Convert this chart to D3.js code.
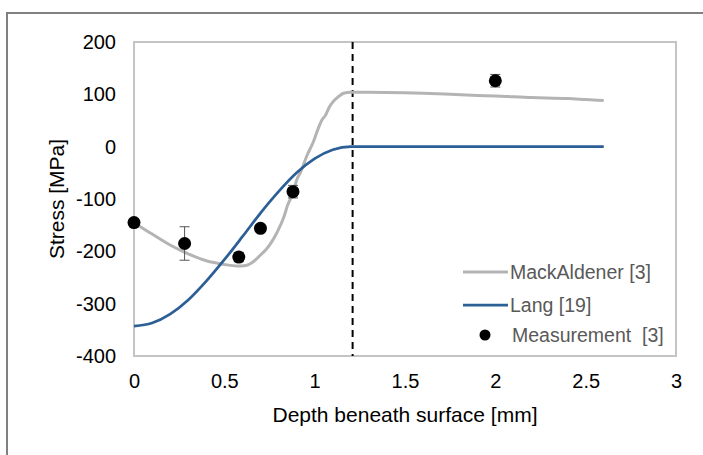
<!DOCTYPE html>
<html>
<head>
<meta charset="utf-8">
<script src="https://cdn.jsdelivr.net/npm/d3@7"></script>
<style>
  body { margin: 0; background: #fff; }
  text { font-family: "Liberation Sans", Arial, sans-serif; }
</style>
</head>
<body>
<svg id="chart"></svg>
<script>
// MackAldener [3] curve (depth mm, stress MPa)
const mackDepth = [0, 0.1, 0.2, 0.3, 0.4, 0.5, 0.57, 0.62, 0.66, 0.7, 0.73, 0.79, 0.83, 0.85, 0.88, 0.9,
  0.92, 0.96, 0.99, 1.02, 1.04, 1.06, 1.08, 1.1, 1.13, 1.16, 1.2, 1.3, 1.5, 1.6, 1.75, 1.9, 2.0, 2.2, 2.4, 2.5, 2.6];
const mackStress = [-145, -167, -188, -205, -218, -225, -228, -227, -220, -207, -197, -165, -134, -112, -89, -64,
  -50, -15, 7, 35, 51, 60, 75, 85, 95, 102, 104, 104, 103, 102, 100, 98, 97, 94, 92, 90, 88];

// Lang [19] curve
const langDepth = [0, 0.1, 0.2, 0.3, 0.4, 0.5, 0.6, 0.7, 0.8, 0.9, 1.0, 1.1, 1.2, 1.6, 2.0, 2.6];
const langStress = [-343, -337, -320, -293, -257, -216, -172, -127, -86, -50, -23, -6, 0, 0, 0, 0];

// Measurement [3] with error bars
const measDepth = [0, 0.28, 0.58, 0.7, 0.88, 2.0];
const measStress = [-145, -185, -211, -156, -86, 126];
const measErr = [0, 32, 9, 0, 12, 12];

// case depth marker
const boundaryDepth = 1.21;

const xTicks = [0, 0.5, 1, 1.5, 2, 2.5, 3];
const yTicks = [200, 100, 0, -100, -200, -300, -400];

const legendItems = ["MackAldener [3]", "Lang [19]", "Measurement  [3]"];

let canvas = {
  "width": 703,
  "height": 455,
  "marginLeft": 134,
  "marginTop": 42,
  "marginRight": 27,
  "marginBottom": 99
};

let svg = d3.select("#chart")
  .attr("width", canvas.width)
  .attr("height", canvas.height);

svg.append("rect")
  .attr("width", canvas.width)
  .attr("height", canvas.height)
  .attr("fill", "#fff");

// outer chart frame (only top and left edges show)
svg.append("rect")
  .attr("x", 7)
  .attr("y", 13)
  .attr("width", 800)
  .attr("height", 600)
  .attr("fill", "none")
  .attr("stroke", "#808080")
  .attr("stroke-width", 2);

let xScale = d3.scaleLinear()
  .domain([0, 3])
  .range([canvas.marginLeft, canvas.width - canvas.marginRight]);

let yScale = d3.scaleLinear()
  .domain([-400, 200])
  .range([canvas.height - canvas.marginBottom, canvas.marginTop]);

// plot area border
svg.append("rect")
  .attr("x", xScale(0))
  .attr("y", yScale(200))
  .attr("width", xScale(3) - xScale(0))
  .attr("height", yScale(-400) - yScale(200))
  .attr("fill", "none")
  .attr("stroke", "#c4c4c4")
  .attr("stroke-width", 2);

// axes (labels only)
let xAxis = d3.axisBottom(xScale).tickValues(xTicks).tickSize(0).tickPadding(18)
  .tickFormat(d => String(d));
let gx = svg.append("g")
  .attr("transform", `translate(0, ${yScale(-400)})`)
  .call(xAxis);

let yAxis = d3.axisLeft(yScale).tickValues(yTicks).tickSize(0).tickPadding(18)
  .tickFormat(d => String(d));
let gy = svg.append("g")
  .attr("transform", `translate(${xScale(0)}, 0)`)
  .call(yAxis);

[gx, gy].forEach(g => {
  g.select(".domain").remove();
  g.selectAll(".tick text")
    .attr("font-size", "20px")
    .attr("fill", "#000")
    .attr("font-family", "Liberation Sans, Arial, sans-serif");
});

// axis titles
svg.append("text")
  .attr("x", (xScale(0) + xScale(3)) / 2)
  .attr("y", 422)
  .attr("text-anchor", "middle")
  .attr("font-size", "21px")
  .attr("fill", "#000")
  .text("Depth beneath surface [mm]");

svg.append("text")
  .attr("transform", `translate(64, ${(yScale(200) + yScale(-400)) / 2}) rotate(-90)`)
  .attr("text-anchor", "middle")
  .attr("font-size", "21px")
  .attr("fill", "#000")
  .text("Stress [MPa]");

// dashed boundary line
svg.append("line")
  .attr("x1", xScale(boundaryDepth))
  .attr("x2", xScale(boundaryDepth))
  .attr("y1", yScale(200))
  .attr("y2", yScale(-400))
  .attr("stroke", "#000")
  .attr("stroke-width", 2)
  .attr("stroke-dasharray", "7,5");

let line = d3.line()
  .x(d => xScale(d[0]))
  .y(d => yScale(d[1]))
  .curve(d3.curveMonotoneX);

let mackData = mackDepth.map((d, i) => [d, mackStress[i]]);
let langData = langDepth.map((d, i) => [d, langStress[i]]);

svg.append("path")
  .datum(mackData)
  .attr("d", line)
  .attr("fill", "none")
  .attr("stroke", "#b4b4b4")
  .attr("stroke-width", 3)
  .attr("stroke-linejoin", "round");

svg.append("path")
  .datum(langData)
  .attr("d", line)
  .attr("fill", "none")
  .attr("stroke", "#2b5f95")
  .attr("stroke-width", 2.75)
  .attr("stroke-linejoin", "round");

// measurements
let meas = measDepth.map((d, i) => ({ x: d, y: measStress[i], e: measErr[i] }));
let errG = svg.append("g").attr("stroke", "#555").attr("stroke-width", 1);

meas.filter(d => d.e > 0).forEach(d => {
  let cx = xScale(d.x);
  errG.append("line")
    .attr("x1", cx).attr("x2", cx)
    .attr("y1", yScale(d.y + d.e)).attr("y2", yScale(d.y - d.e));
  [d.y + d.e, d.y - d.e].forEach(v => {
    errG.append("line")
      .attr("x1", cx - 5).attr("x2", cx + 5)
      .attr("y1", yScale(v)).attr("y2", yScale(v));
  });
});

svg.append("g")
  .selectAll("circle")
  .data(meas)
  .join("circle")
  .attr("cx", d => xScale(d.x))
  .attr("cy", d => yScale(d.y))
  .attr("r", 6.5)
  .attr("fill", "#000");

// legend
let legendY = [272, 305, 335];
let legend = svg.append("g");

legend.append("line")
  .attr("x1", 463).attr("x2", 508)
  .attr("y1", legendY[0]).attr("y2", legendY[0])
  .attr("stroke", "#b4b4b4").attr("stroke-width", 3);
legend.append("line")
  .attr("x1", 463).attr("x2", 508)
  .attr("y1", legendY[1]).attr("y2", legendY[1])
  .attr("stroke", "#2b5f95").attr("stroke-width", 2.75);
legend.append("circle")
  .attr("cx", 485).attr("cy", legendY[2])
  .attr("r", 5.5).attr("fill", "#000");

legend.selectAll("text")
  .data(legendItems)
  .join("text")
  .attr("x", (d, i) => i == 2 ? 512 : 510)
  .attr("y", (d, i) => legendY[i])
  .attr("dy", "0.35em")
  .attr("font-size", "19.5px")
  .attr("fill", "#595959")
  .style("white-space", "pre")
  .text(d => d);
</script>
</body>
</html>
